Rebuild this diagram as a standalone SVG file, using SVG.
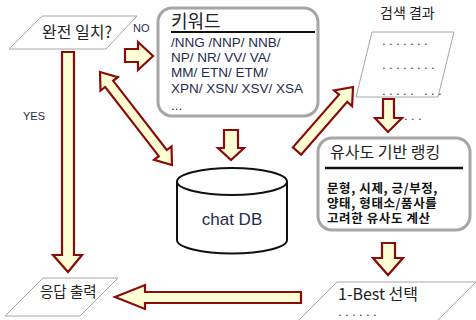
<svg xmlns="http://www.w3.org/2000/svg" width="476" height="320" viewBox="0 0 476 320">
<defs>
<style>
.arr{fill:#FFFFD6;stroke:#8B0A0A;stroke-width:2.2;stroke-linejoin:miter}
.para{fill:#fff;stroke:#A6A6A6;stroke-width:1}
.rbox{fill:#fff;stroke:#A6A6A6;stroke-width:3}
.ko{font-family:"Noto Sans CJK KR","Noto Sans",sans-serif;fill:#222}
.lat{font-family:"Liberation Sans",Arial,sans-serif;fill:#1F2D4F}
.dots{font-family:"Liberation Sans",Arial,sans-serif;fill:#1F3864;font-size:13px;letter-spacing:3.4px}
.bold{font-family:"Noto Sans CJK KR","Noto Sans",sans-serif;font-size:12.5px;font-weight:bold;fill:#111;letter-spacing:0.6px}
</style>
</defs>
<rect width="476" height="320" fill="#fff"/>

<g id="match">
<polygon class="para" points="42,16 137,16 106,49 9,49"/>
<text class="ko" x="42" y="38" font-size="16">완전 일치?</text>
</g>

<g id="keyword">
<rect class="rbox" x="158" y="8" width="160" height="108" rx="14"/>
<text class="ko" x="171" y="28" font-size="18">키워드</text>
<line x1="171" y1="32" x2="315" y2="32" stroke="#111" stroke-width="2"/>
<text class="lat" font-size="13.5">
<tspan x="171" y="47">/NNG /NNP/ NNB/</tspan>
<tspan x="171" y="62">NP/ NR/ VV/ VA/</tspan>
<tspan x="171" y="77">MM/ ETN/ ETM/</tspan>
<tspan x="171" y="93">XPN/ XSN/ XSV/ XSA</tspan>
<tspan x="171" y="110">...</tspan>
</text>
</g>

<g id="result">
<text class="ko" x="380" y="18" font-size="14">검색 결과</text>
<polygon class="para" points="372,32 454,32 438,97 356,97"/>
<text class="dots" x="382" y="45">.......</text>
<text class="dots" x="382" y="69">........</text>
<text class="dots" x="382" y="95">..... ...</text>
<text class="dots" x="404" y="120">...</text>
</g>

<g id="ranking">
<rect class="rbox" x="318" y="138" width="152" height="92" rx="14"/>
<text class="ko" x="330" y="158" font-size="16">유사도 기반 랭킹</text>
<line x1="325" y1="168" x2="463" y2="168" stroke="#111" stroke-width="2.5"/>
<text class="bold" x="327" y="193">문형, 시제, 긍/부정,</text>
<text class="bold" x="327" y="208">양태, 형태소/품사를</text>
<text class="bold" x="327" y="223">고려한 유사도 계산</text>
</g>

<g id="db">
<path d="M177,181.5 L177,240 A55,13.5 0 0 0 287,240 L287,181.5" fill="#fff" stroke="#111" stroke-width="2"/>
<ellipse cx="232" cy="181.5" rx="55" ry="13.5" fill="#fff" stroke="#111" stroke-width="2"/>
<text class="lat" x="232" y="225" font-size="17" text-anchor="middle" fill="#111">chat DB</text>
</g>

<g id="best">
<polygon class="para" points="337,282 476,282 437,321 298,321"/>
<text class="ko" x="338" y="300" font-size="16">1-Best 선택</text>
<text class="dots" x="338" y="316">......</text>
</g>

<g id="output">
<polygon class="para" points="43,278 118,278 80,316 5,316"/>
<text class="ko" x="40" y="297" font-size="14.5">응답 출력</text>
</g>

<g id="connectors">
<polygon class="arr" points="125,49 138,49 138,42 153,56 138,70 138,62 125,62"/>
<text class="lat" x="133" y="32" font-size="11" fill="#1F3864">NO</text>
<polygon class="arr" points="62,52 74,52 74,255 82,255 68,272 53,255 62,255"/>
<text class="lat" x="23" y="120" font-size="11" fill="#1F3864">YES</text>
<polygon class="arr" points="100,72 117.9,77.2 113.2,80.8 166.8,150 171.5,146.4 172,165 154.1,159.8 158.8,156.2 105.2,87 100.5,90.6"/>
<polygon class="arr" points="224,130 238,130 238,148 244,148 231,160 218,148 224,148"/>
<polygon class="arr" points="353,87 352.1,106.2 347.2,101.9 301.1,154.6 292.9,147.4 339,94.7 334.1,90.4"/>
<polygon class="arr" points="383,99 394,99 394,118 402,118 388,132 375,118 383,118"/>
<polygon class="arr" points="382,243 395,243 395,258 403,258 388,275 373,258 382,258"/>
<polygon class="arr" points="301,292 301,303 145,303 145,309 115,297 145,285 145,292"/>
</g>
</svg>
